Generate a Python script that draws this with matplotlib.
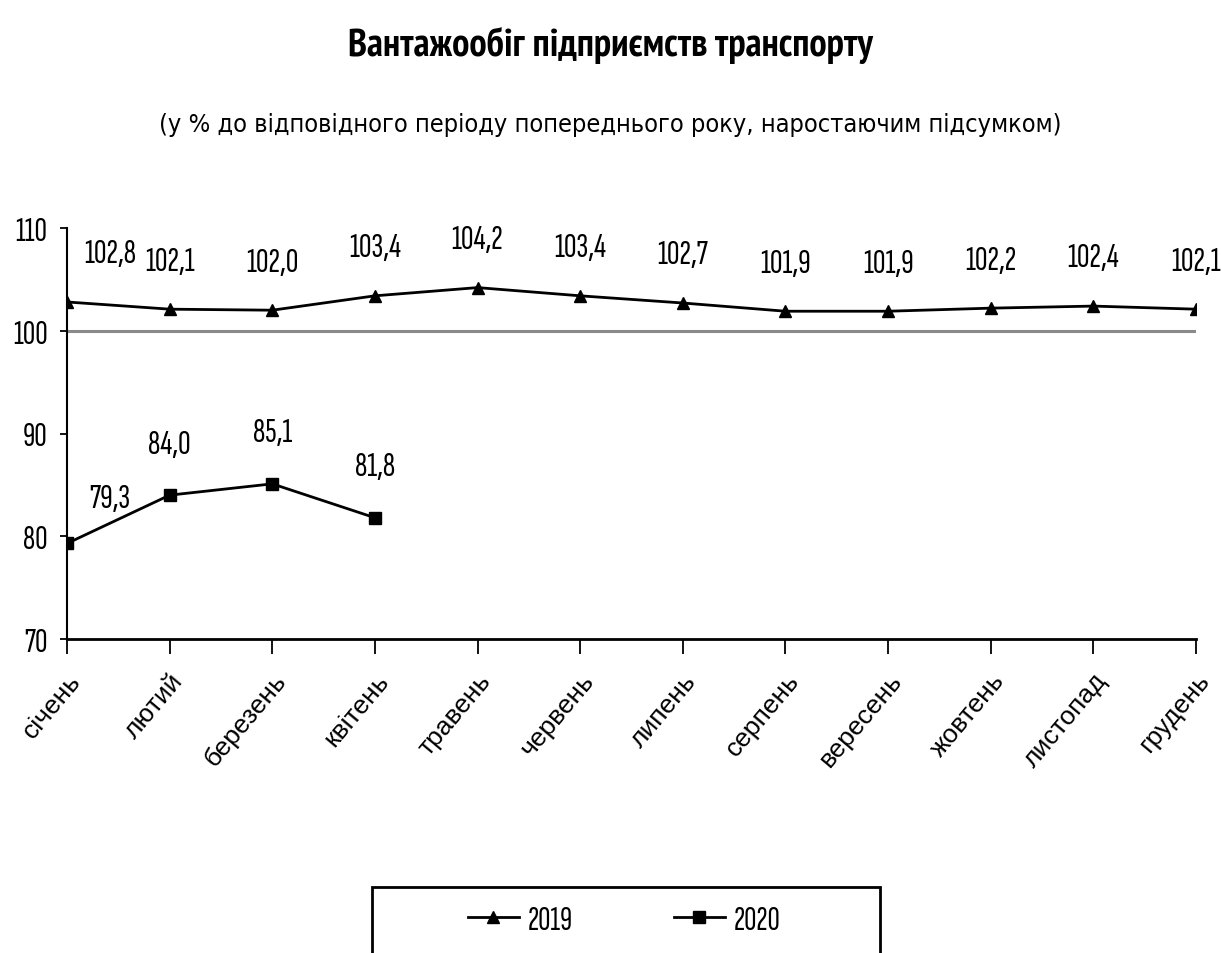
import matplotlib.pyplot as plt
import matplotlib.transforms as mtransforms
import numpy as np
from matplotlib import font_manager
from matplotlib.ft2font import FT2Font
from matplotlib.patches import Rectangle

months = ["січень", "лютий", "березень", "квітень", "травень", "червень",
          "липень", "серпень", "вересень", "жовтень", "листопад", "грудень"]
values2019 = [102.8, 102.1, 102.0, 103.4, 104.2, 103.4, 102.7, 101.9, 101.9, 102.2, 102.4, 102.1]
values2020 = [79.3, 84.0, 85.1, 81.8]
yTicks = [70, 80, 90, 100, 110]
title = "Вантажообіг підприємств транспорту"
subtitle = "(у % до відповідного періоду попереднього року, наростаючим підсумком)"


def hasCyrillic(path):
    try:
        return ord('ж') in FT2Font(path).get_charmap()
    except Exception:
        return False


def weightOf(f):
    w = f.weight
    if isinstance(w, str):
        return 700 if 'bold' in w.lower() else 400
    return w


def measure(path, s, size=10):
    ft = FT2Font(path)
    ft.set_size(size, 100)
    ft.set_text(s, 0.0)
    w, h = ft.get_width_height()
    return w / 64.0, h / 64.0


# the chart uses a condensed face, look for narrow fonts with cyrillic letters
narrowFonts = [f for f in font_manager.fontManager.ttflist
               if ('Narrow' in f.name or 'Condensed' in f.name or 'condensed' in str(f.stretch))
               and f.style == 'normal' and hasCyrillic(f.fname)]
regularFonts = [f for f in narrowFonts if weightOf(f) == 400]
boldFonts = [f for f in narrowFonts if weightOf(f) >= 600]
if not regularFonts:
    regularFonts = [f for f in font_manager.fontManager.ttflist if f.name == 'DejaVu Sans' and weightOf(f) == 400 and f.style == 'normal']
if not boldFonts:
    boldFonts = [f for f in font_manager.fontManager.ttflist if f.name == 'DejaVu Sans' and weightOf(f) >= 600 and f.style == 'normal']
textPath = regularFonts[0].fname  # plain letter shapes for the subtitle
digitPath = min(regularFonts, key=lambda f: measure(f.fname, "102,4")[0]).fname
boldPath = min(boldFonts, key=lambda f: measure(f.fname, title)[0]).fname


def fitSize(path, s, targetW, targetH, hs, k=0.65):
    # compromise between the width and the height seen in the picture
    w, _ = measure(path, s)
    _, h = measure(path, hs)
    sw = 10 * targetW / w
    sh = 10 * targetH / h
    return sw ** k * sh ** (1 - k)


def fp(path, size):
    return font_manager.FontProperties(fname=path, size=size)


titleSize = fitSize(boldPath, title, 485, 33, "В")
subSize = fitSize(textPath, subtitle, 840, 25, "П", 0.8)
labelSize = fitSize(digitPath, "102,4", 50, 24, "1")
tickSize = fitSize(digitPath, "110", 31, 23, "1")
legendSize = fitSize(digitPath, "2019", 43, 24, "2")

fig = plt.figure(figsize=(12.21, 9.54), dpi=100)
ax = fig.add_axes([67 / 1221, 1 - 640 / 954, (1196 - 67) / 1221, (640 - 229) / 954])

x19 = np.arange(len(values2019))
x20 = np.arange(len(values2020))

ax.axhline(100, color='#8a8a8a', lw=2.2, zorder=1)
ax.plot(x19, values2019, '-k^', lw=2, ms=9, label="2019", zorder=3)
ax.plot(x20, values2020, '-ks', lw=2, ms=9, label="2020", zorder=3)

# data labels
for i, v in enumerate(values2019):
    dx = 31 if i == 0 else 0
    ax.annotate(("%.1f" % v).replace('.', ','), (i, v), xytext=(dx, 35),
                textcoords='offset points', ha='center', va='center',
                fontproperties=fp(digitPath, labelSize), annotation_clip=False)
for i, v in enumerate(values2020):
    dx, dy = (31, 33) if i == 0 else (0, 37)
    ax.annotate(("%.1f" % v).replace('.', ','), (i, v), xytext=(dx, dy),
                textcoords='offset points', ha='center', va='center',
                fontproperties=fp(digitPath, labelSize), annotation_clip=False)

ax.set_xlim(0, 11)
ax.set_ylim(70, 110)
ax.set_yticks(yTicks)
ax.set_yticklabels([str(t) for t in yTicks], fontproperties=fp(digitPath, tickSize))
ax.set_xticks(x19)
ax.set_xticklabels(months, rotation=50, ha='right', rotation_mode='anchor',
                   fontsize=19, family='Liberation Sans')
shift = mtransforms.ScaledTranslation(6 / 100, 0, fig.dpi_scale_trans)
for lbl in ax.get_xticklabels():
    lbl.set_transform(lbl.get_transform() + shift)
ax.tick_params(axis='x', direction='out', length=11, width=1.3, pad=10)
ax.tick_params(axis='y', direction='out', length=5, width=1.3, pad=9)
ax.spines['top'].set_visible(False)
ax.spines['right'].set_visible(False)
ax.spines['left'].set_linewidth(1.5)
ax.spines['bottom'].set_linewidth(2)

fig.text(0.5, 1 - 45 / 954, title, ha='center', va='center',
         fontproperties=fp(boldPath, titleSize))
fig.text(0.5, 1 - 125 / 954, subtitle, ha='center', va='center',
         fontproperties=fp(textPath, subSize))

# legend box runs past the bottom edge of the picture
fig.patches.append(Rectangle((372 / 1221, -0.02), 508 / 1221, 0.02 + 1 - 888 / 954,
                             transform=fig.transFigure, fill=False, ec='black', lw=2))
fig.legend(loc='center', bbox_to_anchor=(624 / 1221, 1 - 921 / 954), ncol=2,
           prop=fp(digitPath, legendSize), frameon=False,
           handlelength=1.5, handletextpad=0.25, columnspacing=3.0)

plt.savefig("out.png", dpi=100)
